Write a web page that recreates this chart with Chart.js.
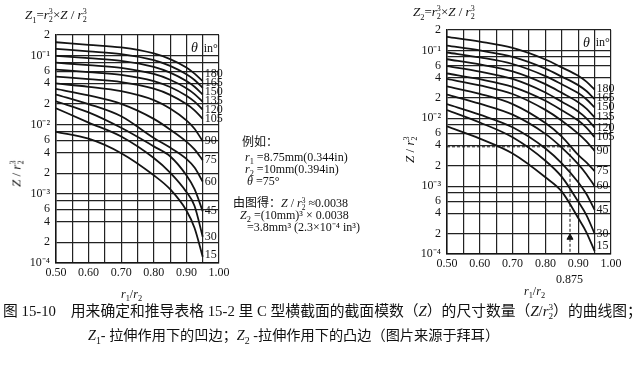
<!DOCTYPE html>
<html>
<head>
<meta charset="utf-8">
<script src="https://cdn.jsdelivr.net/npm/chart.js@4.4.1/dist/chart.umd.min.js"></script>
<style>
html, body { margin: 0; padding: 0; background: #fff; }
body { width: 640px; height: 374px; position: relative; overflow: hidden;
       font-family: "Liberation Serif", "Noto Sans CJK SC", serif; color: #111; }
canvas { position: absolute; top: 0; }
.t { position: absolute; white-space: nowrap; font-size: 12px; line-height: 1; }
.ss { display: inline-block; vertical-align: -0.35em; font-size: 0.62em; line-height: 0.95; }
.ss span { display: block; }
.rot { transform: rotate(-90deg); transform-origin: center; }
</style>
</head>
<body>
<canvas id="chartZ1" width="240" height="300" style="left:0"></canvas>
<canvas id="chartZ2" width="240" height="300" style="left:400px"></canvas>

<!-- titles -->
<div class="t" style="left:25px;top:8px;font-size:13px"><i>Z</i><sub style="font-size:0.65em">1</sub>=<i>r</i><span class="ss"><span>3</span><span>2</span></span>×<i>Z</i> / <i>r</i><span class="ss"><span>3</span><span>2</span></span></div>
<div class="t" style="left:413px;top:5px;font-size:13px"><i>Z</i><sub style="font-size:0.65em">2</sub>=<i>r</i><span class="ss"><span>3</span><span>2</span></span>×<i>Z</i> / <i>r</i><span class="ss"><span>3</span><span>2</span></span></div>

<!-- axis titles -->
<div class="t rot" style="left:4px;top:166px;font-size:13px"><i>Z</i> / <i>r</i><span class="ss"><span>3</span><span>2</span></span></div>
<div class="t rot" style="left:398px;top:142px;font-size:13px"><i>Z</i> / <i>r</i><span class="ss"><span>3</span><span>2</span></span></div>
<div class="t" style="left:121px;top:288px;font-size:12px"><i>r</i><sub style="font-size:0.7em">1</sub>/<i>r</i><sub style="font-size:0.7em">2</sub></div>
<div class="t" style="left:524px;top:285px;font-size:12px"><i>r</i><sub style="font-size:0.7em">1</sub>/<i>r</i><sub style="font-size:0.7em">2</sub></div>
<div class="t" style="left:556px;top:273px;font-size:12px">0.875</div>

<!-- worked example -->
<div class="t" style="left:242px;top:136px">例如：</div>
<div class="t" style="left:245px;top:151px"><i>r</i><sub style="font-size:0.7em">1</sub> =8.75mm(0.344in)</div>
<div class="t" style="left:245px;top:163px"><i>r</i><sub style="font-size:0.7em">2</sub> =10mm(0.394in)</div>
<div class="t" style="left:247px;top:175px"><i>θ</i> =75°</div>
<div class="t" style="left:233px;top:197px">由图得：<i>Z</i> / <i>r</i><span class="ss"><span>3</span><span>2</span></span> ≈0.0038</div>
<div class="t" style="left:240px;top:209px"><i>Z</i><sub style="font-size:0.7em">2</sub> =(10mm)³ × 0.0038</div>
<div class="t" style="left:247px;top:221px">=3.8mm³ (2.3×10⁻⁴ in³)</div>

<!-- caption -->
<div class="t" style="left:3px;top:303px;font-size:14.8px">图 15-10　用来确定和推导表格 15-2 里 C 型横截面的截面模数（<i>Z</i>）的尺寸数量（<i>Z</i>/<i>r</i><span class="ss"><span>3</span><span>2</span></span>）的曲线图；</div>
<div class="t" style="left:88px;top:328px;font-size:14.2px"><i>Z</i><sub style="font-size:0.7em">1</sub>- 拉伸作用下的凹边；<i>Z</i><sub style="font-size:0.7em">2</sub> -拉伸作用下的凸边（图片来源于拜耳）</div>

<script>
// curve families, theta in degrees (lowest curve first)
const thetas = ['15', '30', '45', '60', '75', '90', '105', '120', '135', '150', '165', '180'];
const ratioX = [0.50, 0.60, 0.70, 0.80, 0.85, 0.90, 0.925, 0.95];

// Z1: concave side under tension
const z1Curves = [
    [0.00794, 0.00631, 0.00389, 0.00186, 0.00117, 0.000575, 0.000321, 0.000123],
    [0.0174, 0.0108, 0.00678, 0.00331, 0.00204, 0.00107, 0.00067, 0.00024],
    [0.0219, 0.0152, 0.00908, 0.00488, 0.00351, 0.00186, 0.00117, 0.000562],
    [0.0275, 0.0200, 0.0133, 0.00646, 0.00469, 0.00322, 0.00241, 0.00151],
    [0.0331, 0.0267, 0.0201, 0.0122, 0.00857, 0.00573, 0.00441, 0.00309],
    [0.0398, 0.0356, 0.0307, 0.0228, 0.0172, 0.0116, 0.0088, 0.0058],
    [0.0501, 0.0459, 0.0417, 0.0334, 0.0272, 0.0200, 0.0162, 0.0122],
    [0.0631, 0.0581, 0.0531, 0.0431, 0.0353, 0.0264, 0.0217, 0.0166],
    [0.0794, 0.0733, 0.0670, 0.0546, 0.0450, 0.0339, 0.0279, 0.0215],
    [0.100, 0.0923, 0.0845, 0.0690, 0.0570, 0.0431, 0.0356, 0.0275],
    [0.126, 0.116, 0.106, 0.0867, 0.0716, 0.0541, 0.0447, 0.0344],
    [0.157, 0.144, 0.132, 0.108, 0.0893, 0.0675, 0.0551, 0.0431]
];

// Z2: convex side under tension
const z2Curves = [
    [0.00759, 0.00501, 0.00302, 0.00135, 0.000832, 0.000339, 0.000209, 0.000110],
    [0.0132, 0.00867, 0.00525, 0.00237, 0.00137, 0.000593, 0.000374, 0.000200],
    [0.0162, 0.0113, 0.00736, 0.00359, 0.00217, 0.00114, 0.000766, 0.000447],
    [0.0224, 0.0164, 0.0113, 0.00589, 0.00369, 0.00211, 0.00150, 0.00100],
    [0.0295, 0.0229, 0.0162, 0.00851, 0.00537, 0.00288, 0.00224, 0.00166],
    [0.0380, 0.0305, 0.0228, 0.0133, 0.00923, 0.00594, 0.00455, 0.00331],
    [0.0457, 0.0377, 0.0290, 0.0181, 0.0131, 0.00925, 0.00729, 0.00527],
    [0.0589, 0.0488, 0.0380, 0.0240, 0.0175, 0.0126, 0.00998, 0.00729],
    [0.0741, 0.0621, 0.0490, 0.0318, 0.0237, 0.0173, 0.0139, 0.01035],
    [0.0933, 0.0789, 0.0631, 0.0419, 0.0317, 0.0235, 0.0191, 0.0145],
    [0.1175, 0.0998, 0.0804, 0.0540, 0.0411, 0.0308, 0.0252, 0.0192],
    [0.1585, 0.1349, 0.1089, 0.0735, 0.0562, 0.0423, 0.0347, 0.0265]
];

// worked example: r1/r2 = 0.875, theta = 75 -> Z/r2^3 = 0.0038
const exampleRatio = 0.875;
const exampleZ = 0.0038;

// axis ticks
const xGrid = [0.50, 0.55, 0.60, 0.65, 0.70, 0.75, 0.80, 0.85, 0.90, 0.95, 1.00];
const yGrid = [1e-4, 2e-4, 4e-4, 6e-4, 8e-4, 1e-3, 2e-3, 4e-3, 6e-3, 8e-3,
               1e-2, 2e-2, 4e-2, 6e-2, 8e-2, 1e-1, 2e-1];
const yTickText = ['10⁻⁴', '2', '4', '6', '', '10⁻³', '2', '4', '6', '',
                   '10⁻²', '2', '4', '6', '', '10⁻¹', '2'];

const ink = '#141414';
const serif = '"Liberation Serif", serif';

function curveLabels(curves) {
    return {
        id: 'curveLabels',
        afterDatasetsDraw(chart) {
            const {ctx, chartArea, scales: {x, y}} = chart;
            const lx = x.getPixelForValue(0.95) + 2;
            ctx.save();
            ctx.fillStyle = ink;
            ctx.textBaseline = 'middle';
            ctx.font = '12px ' + serif;
            let prev = chartArea.bottom + 1;
            curves.forEach((vals, i) => {
                const yEnd = y.getPixelForValue(vals[vals.length - 1]);
                const ty = Math.min(yEnd, prev - 9);
                prev = ty;
                ctx.fillText(thetas[i], lx, ty);
            });
            // header "θ in°"
            const hy = y.getPixelForValue(0.128);
            ctx.textAlign = 'center';
            ctx.font = 'italic 14px ' + serif;
            ctx.fillText('θ', x.getPixelForValue(0.925), hy);
            ctx.font = '12px ' + serif;
            ctx.fillText('in°', x.getPixelForValue(0.975), hy);
            ctx.restore();
        }
    };
}

function buildChart(id, curves, pad, yWidth, extraSets) {
    const datasets = curves.map((vals, i) => ({
        label: thetas[i],
        data: vals.map((v, j) => ({x: ratioX[j], y: v})),
        borderColor: ink,
        borderWidth: 1.8,
        pointRadius: 0,
        cubicInterpolationMode: 'monotone',
        fill: false
    }));
    return new Chart(document.getElementById(id), {
        type: 'line',
        data: {datasets: datasets.concat(extraSets || [])},
        options: {
            responsive: false,
            animation: false,
            layout: {padding: pad},
            plugins: {legend: {display: false}, tooltip: {enabled: false}},
            scales: {
                x: {
                    type: 'linear',
                    min: 0.5,
                    max: 1.0,
                    afterBuildTicks: s => { s.ticks = xGrid.map(v => ({value: v})); },
                    afterFit: s => { s.height = 20; },
                    ticks: {
                        autoSkip: false,
                        maxRotation: 0,
                        padding: 3,
                        color: ink,
                        font: {family: serif, size: 12},
                        callback: v => (Math.round(v * 100) % 10 === 0 ? v.toFixed(2) : '')
                    },
                    grid: {color: '#222', lineWidth: 1.2, drawTicks: false},
                    border: {color: ink, width: 1.5}
                },
                y: {
                    type: 'logarithmic',
                    min: 1e-4,
                    max: 0.2,
                    afterBuildTicks: s => { s.ticks = yGrid.map(v => ({value: v})); },
                    afterFit: s => { s.width = yWidth; },
                    ticks: {
                        autoSkip: false,
                        padding: 6,
                        color: ink,
                        font: {family: serif, size: 12},
                        callback: (v, i) => yTickText[i]
                    },
                    grid: {color: '#222', lineWidth: 1.2, drawTicks: false},
                    border: {color: ink, width: 1.5}
                }
            }
        },
        plugins: [curveLabels(curves)]
    });
}

buildChart('chartZ1', z1Curves, {left: 0, top: 35, right: 21, bottom: 17}, 56);

buildChart('chartZ2', z2Curves, {left: 0, top: 30, right: 29, bottom: 26}, 47, [
    {
        data: [{x: 0.5, y: exampleZ}, {x: exampleRatio, y: exampleZ}, {x: exampleRatio, y: 1e-4}],
        borderColor: ink,
        borderWidth: 1,
        borderDash: [3, 2],
        pointRadius: 0,
        tension: 0,
        fill: false
    },
    {
        data: [{x: exampleRatio, y: 1.75e-4}],
        showLine: false,
        pointStyle: 'triangle',
        pointRadius: 3.5,
        backgroundColor: ink,
        borderColor: ink,
        borderWidth: 1
    }
]);
</script>
</body>
</html>
